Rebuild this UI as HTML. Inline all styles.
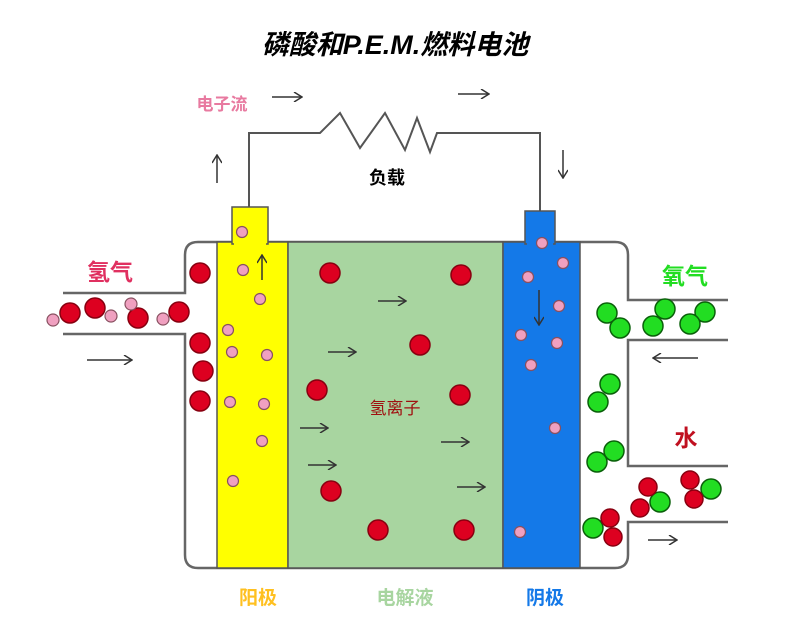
<!DOCTYPE html>
<html><head><meta charset="utf-8"><style>
body{margin:0;background:#fff;}
svg{display:block;font-family:"Liberation Sans","Noto Sans CJK SC",sans-serif;}
</style></head><body>
<svg width="789" height="630" viewBox="0 0 789 630">
<defs>
<marker id="ah" markerWidth="10" markerHeight="10" refX="9" refY="5" orient="auto" markerUnits="userSpaceOnUse">
<path d="M1,0 L9,5 L1,10" fill="none" stroke="#333" stroke-width="1.5"/>
</marker>
</defs>
<text x="395" y="54" text-anchor="middle" font-size="27" font-weight="bold" font-style="italic" fill="#000">磷酸和P.E.M.燃料电池</text>
<!-- wire -->
<polyline points="249,207 249,133 320,133 340,113 360,148 385,113 405,150 417,118 430,152 437,133 540,133 540,211" fill="none" stroke="#555" stroke-width="2"/>
<text x="222" y="110" text-anchor="middle" font-size="17" font-weight="bold" fill="#e87aa0">电子流</text>
<text x="387" y="184" text-anchor="middle" font-size="18" font-weight="bold" fill="#000">负载</text>
<g stroke="#333" stroke-width="1.5" marker-end="url(#ah)">
<line x1="272" y1="97" x2="302" y2="97"/>
<line x1="458" y1="94" x2="489" y2="94"/>
<line x1="217" y1="183" x2="217" y2="155"/>
<line x1="563" y1="150" x2="563" y2="178"/>
</g>
<!-- cell outline -->
<path d="M63,293 L185,293 L185,255 Q185,242 198,242 L615,242 Q628,242 628,255 L628,300 L728,300 M728,340 L628,340 L628,466 L728,466 M728,522 L628,522 L628,555 Q628,568 615,568 L198,568 Q185,568 185,555 L185,334 L63,334" fill="none" stroke="#666" stroke-width="2.5"/>
<rect x="217" y="242" width="71" height="326" fill="#ffff00" stroke="#555" stroke-width="1.5"/>
<rect x="232" y="207" width="36" height="37" fill="#ffff00" stroke="#555" stroke-width="1.5"/>
<rect x="234" y="240" width="32" height="5" fill="#ffff00"/>
<rect x="288" y="242" width="215" height="326" fill="#a8d5a0" stroke="#555" stroke-width="1.5"/>
<rect x="503" y="242" width="77" height="326" fill="#1479e8" stroke="#555" stroke-width="1.5"/>
<rect x="525" y="211" width="30" height="33" fill="#1479e8" stroke="#555" stroke-width="1.5"/>
<rect x="527" y="240" width="26" height="5" fill="#1479e8"/>
<!-- red H+ -->
<g fill="#dd0020" stroke="#880010" stroke-width="1.5">
<circle cx="200" cy="273" r="10"/><circle cx="200" cy="343" r="10"/><circle cx="203" cy="371" r="10"/><circle cx="200" cy="401" r="10"/>
<circle cx="70" cy="313" r="10"/><circle cx="95" cy="308" r="10"/><circle cx="138" cy="318" r="10"/><circle cx="179" cy="312" r="10"/>
<circle cx="330" cy="273" r="10"/><circle cx="461" cy="275" r="10"/><circle cx="420" cy="345" r="10"/><circle cx="317" cy="390" r="10"/>
<circle cx="460" cy="395" r="10"/><circle cx="331" cy="491" r="10"/><circle cx="378" cy="530" r="10"/><circle cx="464" cy="530" r="10"/>
</g>
<!-- pink electrons -->
<g fill="#f0a0c0" stroke="#885060" stroke-width="1.2">
<circle cx="53" cy="320" r="6"/><circle cx="111" cy="316" r="6"/><circle cx="131" cy="304" r="6"/><circle cx="163" cy="319" r="6"/>
<circle cx="242" cy="232" r="5.5"/><circle cx="243" cy="270" r="5.5"/><circle cx="260" cy="299" r="5.5"/><circle cx="228" cy="330" r="5.5"/>
<circle cx="232" cy="352" r="5.5"/><circle cx="267" cy="355" r="5.5"/><circle cx="230" cy="402" r="5.5"/><circle cx="264" cy="404" r="5.5"/>
<circle cx="262" cy="441" r="5.5"/><circle cx="233" cy="481" r="5.5"/>
<circle cx="542" cy="243" r="5.5"/><circle cx="563" cy="263" r="5.5"/><circle cx="528" cy="277" r="5.5"/><circle cx="559" cy="306" r="5.5"/>
<circle cx="521" cy="335" r="5.5"/><circle cx="557" cy="343" r="5.5"/><circle cx="531" cy="365" r="5.5"/><circle cx="555" cy="428" r="5.5"/><circle cx="520" cy="532" r="5.5"/>
</g>
<!-- O2 -->
<g fill="#22dd22" stroke="#0a600a" stroke-width="1.5">
<circle cx="607" cy="313" r="10"/><circle cx="620" cy="328" r="10"/>
<circle cx="665" cy="309" r="10"/><circle cx="653" cy="326" r="10"/>
<circle cx="705" cy="312" r="10"/><circle cx="690" cy="324" r="10"/>
<circle cx="610" cy="384" r="10"/><circle cx="598" cy="402" r="10"/>
<circle cx="614" cy="451" r="10"/><circle cx="597" cy="462" r="10"/>
<circle cx="593" cy="528" r="10"/><circle cx="660" cy="502" r="10"/><circle cx="711" cy="489" r="10"/>
</g>
<g fill="#dd0020" stroke="#880010" stroke-width="1.5">
<circle cx="610" cy="518" r="9"/><circle cx="613" cy="537" r="9"/>
<circle cx="648" cy="487" r="9"/><circle cx="640" cy="508" r="9"/>
<circle cx="690" cy="480" r="9"/><circle cx="694" cy="499" r="9"/>
</g>
<!-- arrows -->
<g stroke="#333" stroke-width="1.5" marker-end="url(#ah)">
<line x1="87" y1="360" x2="132" y2="360"/>
<line x1="262" y1="280" x2="262" y2="255"/>
<line x1="378" y1="301" x2="406" y2="301"/>
<line x1="328" y1="352" x2="356" y2="352"/>
<line x1="300" y1="428" x2="328" y2="428"/>
<line x1="308" y1="465" x2="336" y2="465"/>
<line x1="441" y1="442" x2="469" y2="442"/>
<line x1="457" y1="487" x2="485" y2="487"/>
<line x1="539" y1="290" x2="539" y2="325"/>
<line x1="698" y1="358" x2="653" y2="358"/>
<line x1="648" y1="540" x2="677" y2="540"/>
</g>
<!-- labels -->
<text x="110" y="280" text-anchor="middle" font-size="23" font-weight="bold" fill="#e03060">氢气</text>
<text x="685" y="284" text-anchor="middle" font-size="23" font-weight="bold" fill="#22dd22">氧气</text>
<text x="686" y="446" text-anchor="middle" font-size="23" font-weight="bold" fill="#c01020">水</text>
<text x="395" y="414" text-anchor="middle" font-size="17" fill="#a01010">氢离子</text>
<text x="258" y="604" text-anchor="middle" font-size="19" font-weight="bold" fill="#ffc020">阳极</text>
<text x="405" y="604" text-anchor="middle" font-size="19" font-weight="bold" fill="#a8d5a0">电解液</text>
<text x="545" y="604" text-anchor="middle" font-size="19" font-weight="bold" fill="#1479e8">阴极</text>
</svg>
</body></html>
